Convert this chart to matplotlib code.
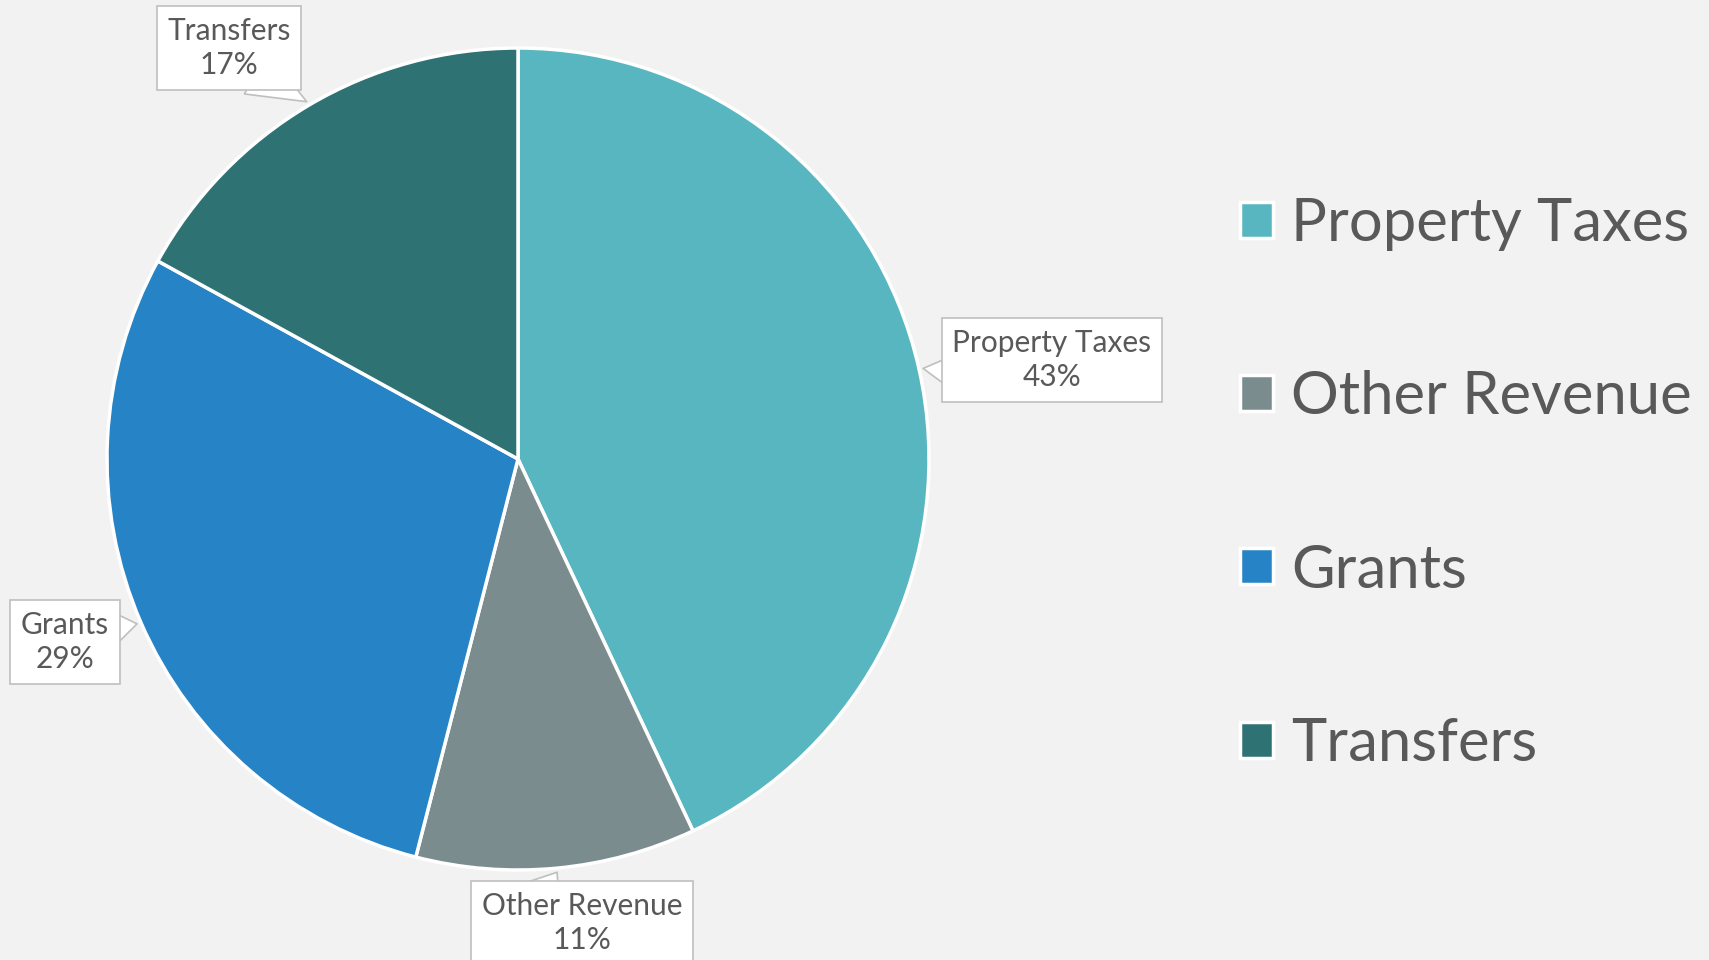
import numpy as np
import matplotlib
matplotlib.use("Agg")
import matplotlib.pyplot as plt

plt.rcParams['font.family'] = ['Lato', 'DejaVu Sans']

# revenue shares, clockwise from 12 o'clock
sources = ["Property Taxes", "Other Revenue", "Grants", "Transfers"]
shares = [43, 11, 29, 17]
colors = ["#58b6c0", "#7a8c8e", "#2683c6", "#2e7274"]

# callout box centres (figure pixels, y up) and where each pointer leaves its box
label_pos = [(1052, 600), (582, 37), (65, 318), (229, 912)]
pointer_rel = [(0.06, 0.29), (0.29, 0.9), (0.94, 0.70), (0.72, 0.1)]

text_color = "#595959"
bg = "#f2f2f2"

fig = plt.figure(figsize=(17.09, 9.6), dpi=100, facecolor=bg)
ax = fig.add_axes([0, 0, 1, 1])
ax.set_facecolor(bg)

center = (518, 501)
radius = 411
wedges, _ = ax.pie(shares, colors=colors, startangle=90, counterclock=False,
                   center=center, radius=radius,
                   wedgeprops=dict(edgecolor="white", linewidth=2.5))
ax.set_xlim(0, 1709)
ax.set_ylim(0, 960)
ax.axis("off")

for w, name, share, pos, rel in zip(wedges, sources, shares, label_pos, pointer_rel):
    mid = np.deg2rad((w.theta1 + w.theta2) / 2)
    tip = (center[0] + radius * 1.01 * np.cos(mid),
           center[1] + radius * 1.01 * np.sin(mid))
    ax.annotate(f"{name}\n{share}%", xy=tip, xytext=pos,
                ha="center", va="center", fontsize=21.5, color=text_color,
                linespacing=1.3,
                bbox=dict(boxstyle="square,pad=0.35", fc="white", ec="#bfbfbf", lw=1.2),
                arrowprops=dict(arrowstyle="wedge,tail_width=1.6,shrink_factor=0.5",
                                fc="white", ec="#bfbfbf", lw=1.2, relpos=rel,
                                patchA=None, shrinkA=0, shrinkB=0))

leg = ax.legend(wedges, sources, loc="center left",
                bbox_to_anchor=(1240 / 1709, 0.496), frameon=False,
                fontsize=43, labelcolor=text_color,
                handlelength=0.55, handleheight=0.55, handletextpad=0.3,
                labelspacing=2.0, borderpad=0, borderaxespad=0)

fig.savefig("out.png", dpi=100, facecolor=bg)
